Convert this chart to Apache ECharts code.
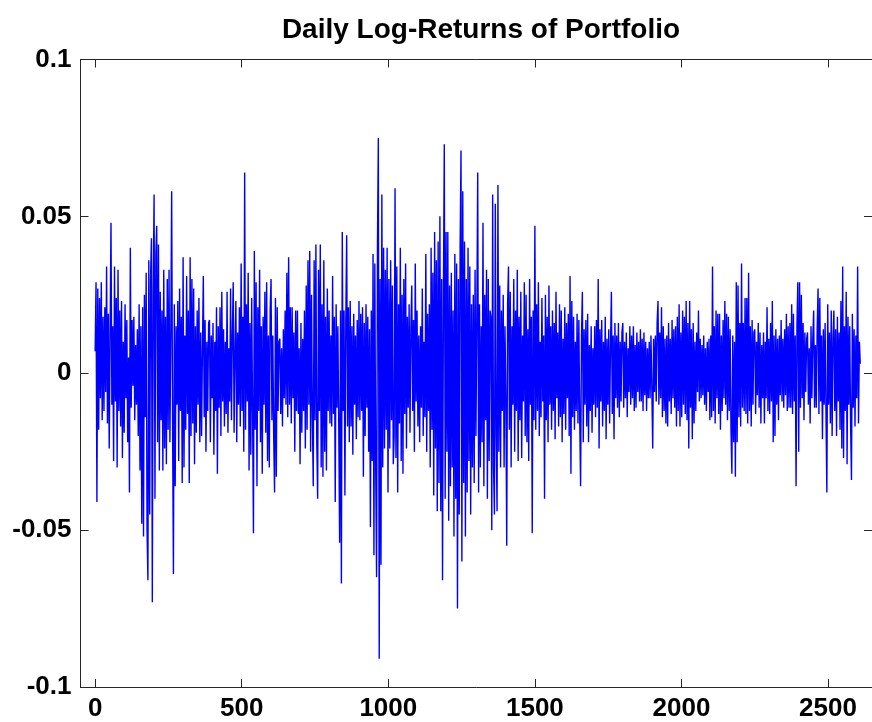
<!DOCTYPE html>
<html>
<head>
<meta charset="utf-8">
<script src="https://cdn.jsdelivr.net/npm/echarts@6/dist/echarts.min.js"></script>
<style>
html,body{margin:0;padding:0;background:#fff;}
#chart{width:872px;height:722px;}
</style>
</head>
<body>
<div id="chart"></div>
<script>
const chartTitle = 'Daily Log-Returns of Portfolio';
const xTickValues = [0, 500, 1000, 1500, 2000, 2500];
const yTickValues = [-0.1, -0.05, 0, 0.05, 0.1];
// day index of the first value and spacing between read values (days)
const firstDay = 0;
const dayStep = 3;
// daily log-returns, one value every 3rd day
const logReturns = [
.007,.029,-.041,.027,-.018,.024,-.008,.029,-.015,.018,
-.012,.021,-.006,.034,-.016,.019,-.024,.012,.048,-.010,
.015,-.028,.034,-.009,.024,-.030,.033,-.012,.020,-.017,
.023,-.027,.010,-.019,.022,-.008,.017,-.022,.005,-.038,
.040,-.011,.017,-.004,.018,-.015,.009,-.010,.014,-.020,
.022,-.031,.015,-.048,.021,-.052,.025,-.014,.032,-.050,
-.066,.036,-.045,.030,.043,-.073,.025,.057,-.040,.038,
.047,-.022,.041,-.031,.026,-.015,.020,-.031,.033,-.024,
.018,-.029,.030,-.018,.033,-.022,.012,.058,-.015,-.064,
.022,-.036,.015,-.010,.023,-.028,.027,-.012,.018,-.035,
.037,-.030,.012,-.018,.031,-.013,.020,-.035,.037,-.020,
.030,-.016,.027,-.029,.015,-.019,.020,-.010,.024,-.022,
.013,-.020,.008,.031,-.014,.017,-.025,.010,-.012,.016,
.017,-.022,.012,-.008,.016,-.026,.010,-.012,.021,-.032,
.015,-.011,.021,-.020,.026,-.009,.014,-.017,.010,-.013,
.026,-.019,.008,-.009,.027,-.015,.012,.029,-.019,.006,
.023,-.022,.013,-.010,.021,-.017,.035,-.012,.018,-.025,
.064,-.018,.022,-.009,.032,-.031,.016,-.026,.024,-.013,
-.051,.039,-.018,.029,-.036,.021,-.012,.033,-.022,.015,
-.032,.018,-.010,.026,-.019,.029,-.028,.012,-.030,.020,
.030,-.015,.012,-.020,-.038,.024,-.033,.021,-.012,.010,
.011,-.013,.008,-.017,.014,-.008,.020,-.010,.032,-.014,
.037,-.010,.021,-.016,.021,-.008,.013,-.025,.020,-.012,
.020,-.013,.008,-.029,.016,-.019,.011,-.012,.020,-.024,
.028,-.018,.036,-.010,.039,-.025,.025,-.014,-.036,.036,
-.015,.041,-.022,-.040,.033,-.012,.041,-.030,.022,-.033,
.036,-.025,.018,-.031,.027,-.012,.020,-.016,.012,-.017,
.031,-.013,.018,-.041,.022,-.011,.015,-.017,-.054,.020,
-.067,.045,-.012,.020,-.039,.016,.044,-.017,.021,-.022,
.023,-.017,.015,-.026,.019,-.010,.012,-.021,.017,-.014,
.023,-.015,.019,-.012,.021,-.033,.016,-.020,.022,-.011,
.018,-.025,.014,-.049,.020,-.028,.038,-.058,.035,-.030,
-.065,.040,.075,-.091,.030,-.061,.057,-.030,.040,-.024,
.033,-.018,.040,-.038,.030,-.024,.036,-.015,.028,-.029,
-.020,.059,-.027,.034,-.038,.022,-.016,.040,-.028,.025,
-.032,.030,-.013,.035,-.024,.018,-.011,.022,-.019,.014,
.028,-.012,.017,-.025,.035,-.009,.020,-.017,.012,-.022,
.015,-.011,.027,-.020,.010,-.014,.038,-.025,.019,-.012,
.022,-.030,.040,-.018,.032,-.039,.045,-.024,.036,-.044,
.042,-.035,.050,-.044,.030,-.066,.025,.073,-.040,.045,
-.025,.045,-.047,.028,-.036,.032,-.030,.020,-.052,.038,
-.040,.035,-.075,.030,-.045,.040,.071,-.060,.058,-.035,
.042,-.052,.030,-.038,.040,-.028,.034,-.045,.022,-.030,
.025,-.035,.033,-.020,.018,.064,-.038,.022,-.030,.015,
-.022,.048,-.036,.025,-.015,.033,-.040,.030,-.028,.020,
.018,-.050,.057,-.030,-.045,.054,-.020,-.044,.060,-.025,
.028,-.030,.020,-.012,.025,-.030,.015,-.008,-.055,.022,
.034,-.018,.026,-.030,.015,-.010,.030,-.025,.020,-.012,
.033,-.028,.018,-.015,.026,-.027,.012,-.009,.029,-.020,
.025,-.022,.014,-.028,.030,-.010,.018,-.051,.020,-.015,
.047,-.018,.022,-.012,.029,-.020,.010,-.014,.024,-.009,
.012,-.040,.025,-.015,.018,-.022,.028,-.010,.015,-.018,
.020,-.012,.016,-.021,.026,-.008,.013,-.017,.022,-.014,
.020,-.022,.011,-.013,.021,-.018,.016,-.008,.019,-.020,
.031,-.032,.023,-.014,.018,-.018,.010,-.012,.019,-.016,
.017,-.015,-.036,.012,.026,-.022,.014,-.010,.017,-.017,
.019,-.022,.009,-.012,.015,-.019,.008,-.010,.015,-.014,
.017,-.011,.030,-.024,.014,-.009,.017,-.017,.010,-.012,
.018,-.021,.011,-.010,.014,-.016,.009,.026,-.013,.012,
-.021,.016,-.008,.012,-.011,.016,-.014,.010,-.009,.013,
.016,-.011,.010,-.008,.013,-.014,.008,-.006,.015,-.010,
.012,-.008,.015,-.012,.009,-.011,.013,-.006,.010,-.009,
.014,-.009,.011,-.012,.013,-.007,.010,-.012,.008,-.008,
.010,-.008,.012,-.005,-.024,.011,-.006,.012,-.009,.016,
.023,-.010,.013,-.008,.021,-.014,.015,-.012,.011,-.016,
.012,-.017,.016,-.009,.011,-.013,.017,-.008,.014,-.011,
.015,-.017,.018,-.012,.022,-.017,.013,-.014,.020,-.010,
.018,-.013,.023,-.015,.016,-.024,.023,-.011,.014,-.021,
.016,-.016,.010,-.012,.013,-.006,.020,-.009,.011,-.008,
.009,-.007,.012,-.010,.008,-.012,.010,-.006,.011,-.015,
.012,-.014,.034,-.012,.015,-.016,.020,-.008,.019,-.013,
.019,-.018,.012,-.012,.017,-.008,.023,-.010,.019,-.015,
.018,-.012,.014,-.018,-.032,.012,-.022,.010,-.033,.029,
-.022,.028,-.014,.016,-.017,.035,-.011,.016,-.012,.024,
-.013,.024,-.016,.032,-.012,.015,-.017,.017,-.010,.013,
.014,-.013,.010,-.007,.016,-.011,.013,-.016,.009,-.008,
.013,-.016,.010,-.008,.021,-.012,.011,-.013,.016,-.009,
.023,-.022,.012,-.020,.014,-.010,.011,-.015,.012,-.007,
.017,-.009,.011,-.011,.014,-.007,.019,-.012,.015,-.011,
.016,-.011,.022,-.013,.019,-.009,.012,-.036,.015,.029,
-.025,.029,-.011,.025,-.008,.016,-.015,.013,-.006,.011,
.013,-.010,.008,-.016,.015,-.008,.011,.020,-.011,.009,
-.011,.014,.027,-.013,.024,-.009,.012,-.021,.014,-.010,
.016,-.012,-.038,.022,-.010,.013,-.016,.020,-.020,.011,
.020,-.012,.014,-.020,.018,-.009,.013,-.018,.023,-.024,
.034,-.027,.015,-.012,.026,-.029,.018,-.010,.015,-.016,
-.034,.019,-.011,.014,-.017,.012,-.008,.034,-.016,.010,.003
];

const seriesData = logReturns.map((v, i) => [firstDay + i * dayStep, v]);

const fontFamily = '"Liberation Sans", Arial, Helvetica, sans-serif';
const axisColor = '#262626';
const labelStyle = {
  color: '#000', fontSize: 26, fontWeight: 'bold', fontFamily: fontFamily,
  formatter: v => String(v)
};

const chart = echarts.init(document.getElementById('chart'), null, {renderer: 'canvas'});
chart.setOption({
  animation: false,
  backgroundColor: '#fff',
  title: {
    text: chartTitle,
    left: 476,
    top: 11,
    textAlign: 'center',
    textStyle: {color: '#000', fontSize: 28, fontWeight: 'bold', fontFamily: fontFamily}
  },
  grid: {left: 80.5, top: 59.5, right: -4.5, bottom: 33.5, containLabel: false},
  xAxis: [
    {
      type: 'value', position: 'bottom', min: -50, max: 2650,
      splitLine: {show: false},
      axisLine: {onZero: false, lineStyle: {color: axisColor, width: 1}},
      axisTick: {inside: true, length: 8, customValues: xTickValues, lineStyle: {color: axisColor}},
      axisLabel: Object.assign({customValues: xTickValues, margin: 9}, labelStyle)
    },
    {
      type: 'value', position: 'top', min: -50, max: 2650,
      splitLine: {show: false},
      axisLine: {onZero: false, lineStyle: {color: axisColor, width: 1}},
      axisTick: {inside: true, length: 8, customValues: xTickValues, lineStyle: {color: axisColor}},
      axisLabel: {show: false}
    }
  ],
  yAxis: [
    {
      type: 'value', position: 'left', min: -0.1, max: 0.1, interval: 0.05,
      splitLine: {show: false},
      axisLine: {onZero: false, lineStyle: {color: axisColor, width: 1}},
      axisTick: {inside: true, length: 8, customValues: yTickValues, lineStyle: {color: axisColor}},
      axisLabel: Object.assign({customValues: yTickValues, margin: 9}, labelStyle)
    },
    {
      type: 'value', position: 'right', min: -0.1, max: 0.1, interval: 0.05,
      splitLine: {show: false},
      axisLine: {onZero: false, lineStyle: {color: axisColor, width: 1}},
      axisTick: {inside: true, length: 8, customValues: yTickValues, lineStyle: {color: axisColor}},
      axisLabel: {show: false}
    }
  ],
  series: [{
    type: 'line',
    xAxisIndex: 0,
    yAxisIndex: 0,
    data: seriesData,
    showSymbol: false,
    symbol: 'none',
    sampling: null,
    lineStyle: {color: '#0000ff', width: 1.4},
    emphasis: {disabled: true}
  }]
});
</script>
</body>
</html>
